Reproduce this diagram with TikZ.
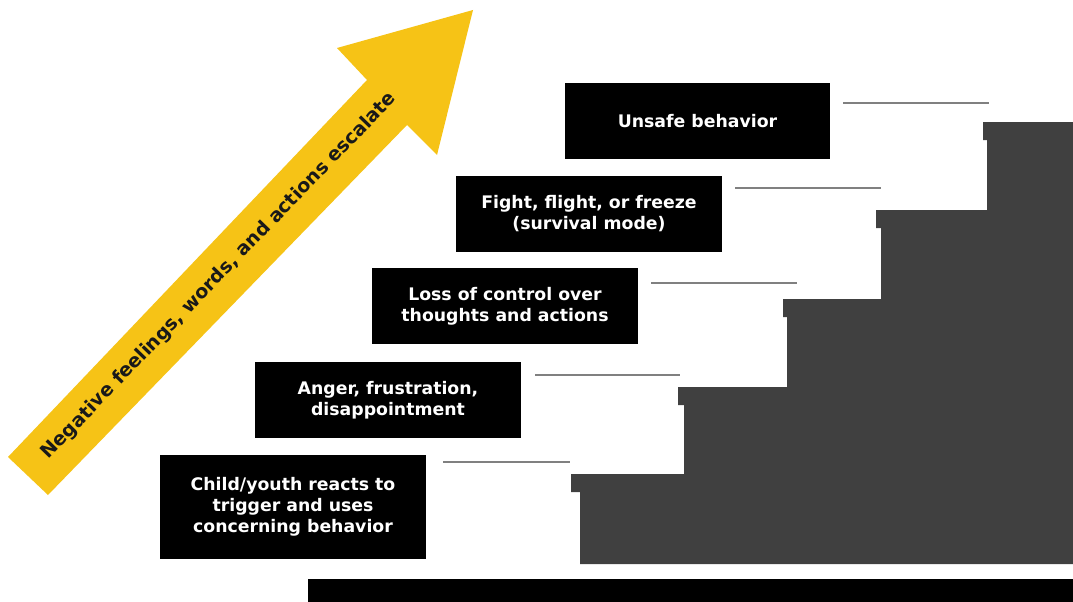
\documentclass[tikz,border=0pt]{standalone}
\usepackage{fontspec}
\setmainfont{DejaVu Sans}
\definecolor{arrowyellow}{RGB}{246,195,22}
\definecolor{stairgray}{RGB}{64,64,64}
\definecolor{linegray}{RGB}{128,128,128}
\begin{document}
\begin{tikzpicture}[x=1pt,y=-1pt,
  stepbox/.style={fill=black,text=white,font=\bfseries\fontsize{17.3}{21}\selectfont,align=center,inner sep=0pt},
  guide/.style={draw=linegray,line width=1.6pt}]
\useasboundingbox[fill=white] (0,0) rectangle (1073,602);
% staircase
\fill[stairgray] (580,564) -- (580,492) -- (571,492) -- (571,474) -- (684,474) -- (684,405) -- (678,405) -- (678,387)
  -- (787,387) -- (787,317) -- (783,317) -- (783,299) -- (881,299) -- (881,228) -- (876,228) -- (876,210)
  -- (987,210) -- (987,140) -- (983,140) -- (983,122) -- (1073,122) -- (1073,564) -- cycle;
% floor bar
\fill[black] (308,579) rectangle (1073,602);
% arrow
\fill[arrowyellow] (8,457) -- (367,80) -- (337,48) -- (473,10) -- (437,155) -- (407,125) -- (48,495) -- cycle;
\node[rotate=46,font=\bfseries\fontsize{19}{22}\selectfont,text=black!90] (arrowtext) at (219,276) {Negative feelings, words, and actions escalate};
% boxes
\node[stepbox,minimum width=265pt,minimum height=76pt] (s5) at (697.5,121) {Unsafe behavior};
\node[stepbox,minimum width=266pt,minimum height=76pt] (s4) at (589,214) {Fight, flight, or freeze\\(survival mode)};
\node[stepbox,minimum width=266pt,minimum height=76pt] (s3) at (505,306) {Loss of control over\\thoughts and actions};
\node[stepbox,minimum width=266pt,minimum height=76pt] (s2) at (388,400) {Anger, frustration,\\disappointment};
\node[stepbox,minimum width=266pt,minimum height=104pt] (s1) at (293,507) {Child/youth reacts to\\trigger and uses\\concerning behavior};
% guide lines
\coordinate (g5a) at (843,103); \coordinate (g5b) at (989,103);
\coordinate (g4a) at (735,188); \coordinate (g4b) at (881,188);
\coordinate (g3a) at (651,283); \coordinate (g3b) at (797,283);
\coordinate (g2a) at (535,375); \coordinate (g2b) at (680,375);
\coordinate (g1a) at (443,462); \coordinate (g1b) at (570,462);
\draw[guide] (g5a) -- (g5b);
\draw[guide] (g4a) -- (g4b);
\draw[guide] (g3a) -- (g3b);
\draw[guide] (g2a) -- (g2b);
\draw[guide] (g1a) -- (g1b);
\end{tikzpicture}
\end{document}
